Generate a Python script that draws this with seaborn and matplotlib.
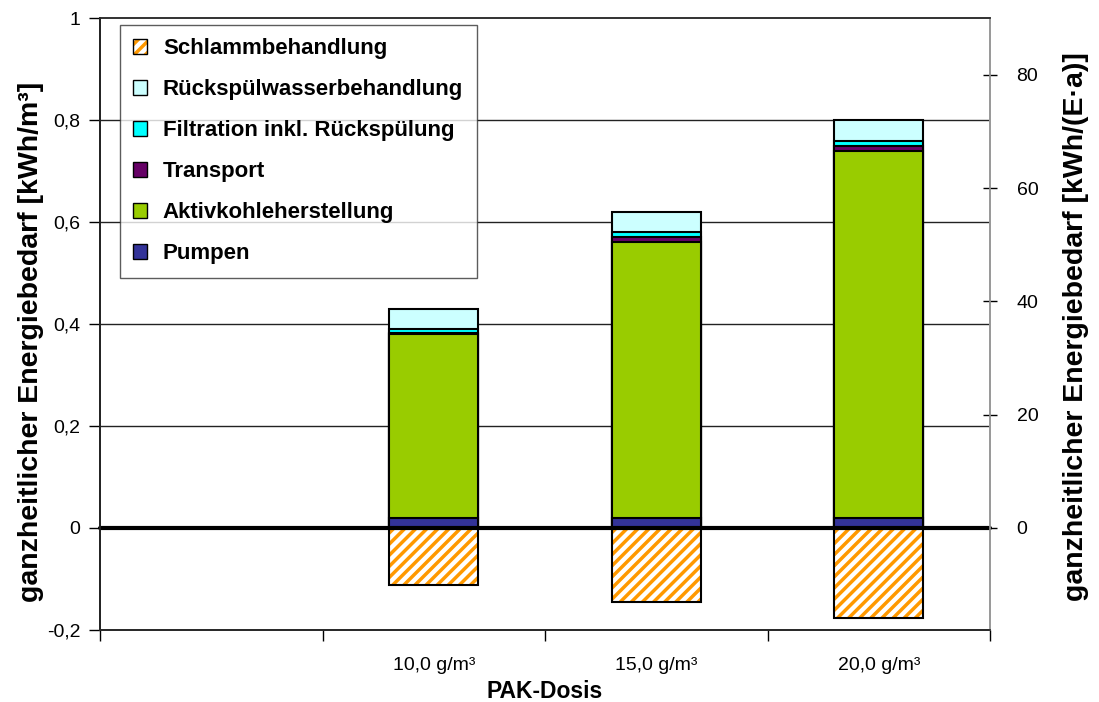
import numpy as np
import pandas as pd
import seaborn as sns
import matplotlib.pyplot as plt
from matplotlib.patches import Patch
from matplotlib.legend_handler import HandlerTuple
from matplotlib.ticker import FixedLocator, NullFormatter

# values (kWh/m³)
categories = ["", "10,0 g/m³", "15,0 g/m³", "20,0 g/m³"]
doses = ["10,0 g/m³", "15,0 g/m³", "20,0 g/m³"]
pumpen = [0.02, 0.02, 0.02]
aktivkohle = [0.36, 0.54, 0.72]
transport = [0.002, 0.01, 0.01]
filtration = [0.008, 0.01, 0.01]
rueckspuel = [0.04, 0.04, 0.04]
schlamm = [-0.112, -0.145, -0.178]

layers = ["Pumpen", "Aktivkohleherstellung", "Transport",
          "Filtration inkl. Rückspülung", "Rückspülwasserbehandlung"]
colors = ["#333399", "#99CC00", "#660066", "#00FFFF", "#CCFFFF"]
hatch_color = "#FF9900"
factor = 90  # kWh/m³ -> kWh/(E·a)

sns.set_theme(style="white")
plt.rcParams['font.family'] = ['Liberation Sans', 'DejaVu Sans']
plt.rcParams['hatch.linewidth'] = 2.5
plt.rcParams['text.color'] = 'black'
plt.rcParams['axes.labelcolor'] = 'black'
plt.rcParams['xtick.color'] = 'black'
plt.rcParams['ytick.color'] = 'black'

df = pd.DataFrame({"dose": doses, "Pumpen": pumpen,
                   "Aktivkohleherstellung": aktivkohle, "Transport": transport,
                   "Filtration inkl. Rückspülung": filtration,
                   "Rückspülwasserbehandlung": rueckspuel, "Schlamm": schlamm})
cum = df[layers].cumsum(axis=1)

fig, ax = plt.subplots(figsize=(10.99, 7.02), dpi=100)
fig.subplots_adjust(left=0.091, right=0.901, top=0.974, bottom=0.103)

# stacked bars: draw the tallest first so lower layers sit on top
for name, col in reversed(list(zip(layers, colors))):
    sns.barplot(x=df["dose"], y=cum[name], order=categories, color=col,
                width=0.4, edgecolor="black", linewidth=1.5, saturation=1,
                ax=ax, zorder=3)

# negative part (sludge) with orange hatch, black outline
sns.barplot(x=df["dose"], y=df["Schlamm"], order=categories, color="white",
            width=0.4, edgecolor=hatch_color, linewidth=0, hatch="///",
            saturation=1, ax=ax, zorder=3)
sns.barplot(x=df["dose"], y=df["Schlamm"], order=categories, fill=False,
            width=0.4, edgecolor="black", linewidth=1.5, ax=ax, zorder=4)

ax.set_xlim(-0.5, 3.5)
ax.set_ylim(-0.2, 1.0)
ax.set_yticks(np.arange(-0.2, 1.01, 0.2))
ax.set_yticklabels(["-0,2", "0", "0,2", "0,4", "0,6", "0,8", "1"])
for y in [0.2, 0.4, 0.6, 0.8]:
    ax.axhline(y, color="#222222", lw=1, zorder=1)
ax.axhline(0, color="black", lw=3, zorder=5, clip_on=False)

ax.xaxis.set_major_locator(FixedLocator([-0.5, 0.5, 1.5, 2.5, 3.5]))
ax.xaxis.set_major_formatter(NullFormatter())
ax.xaxis.set_minor_locator(FixedLocator([0, 1, 2, 3]))
ax.set_xticklabels(categories, minor=True)
ax.tick_params(axis="x", which="major", direction="out", length=8, width=1, bottom=True)
ax.tick_params(axis="x", which="minor", length=0, pad=20, labelsize=14, bottom=True)
ax.tick_params(axis="y", direction="out", length=8, width=1, labelsize=14, left=True, pad=6)

ax.set_xlabel("PAK-Dosis", fontsize=16.5, fontweight="bold", labelpad=4)
ax.set_ylabel("ganzheitlicher Energiebedarf [kWh/m³]", fontsize=20.5,
              fontweight="bold")
ax.yaxis.set_label_coords(-0.063, 0.47)

for side in ["top", "right"]:
    ax.spines[side].set_color("#999999")
ax.spines["left"].set_color("black")
ax.spines["bottom"].set_color("#333333")

ax2 = ax.twinx()
ax2.set_ylim(-0.2 * factor, 1.0 * factor)
ax2.set_yticks([0, 20, 40, 60, 80])
ax2.tick_params(axis="y", direction="inout", length=10, width=1, labelsize=14,
                right=True, pad=14)
ax2.spines["right"].set_color("#999999")
ax2.set_ylabel("ganzheitlicher Energiebedarf [kWh/(E·a)]", fontsize=20.5,
               fontweight="bold")
ax2.yaxis.set_label_coords(1.082, 0.495)
ax2.grid(False)

sludge_handle = (Patch(facecolor="white", edgecolor=hatch_color, hatch="///", lw=0),
                 Patch(facecolor="none", edgecolor="black", lw=1))
handles = [sludge_handle]
labels = ["Schlammbehandlung"]
for name, col in reversed(list(zip(layers, colors))):
    handles.append(Patch(facecolor=col, edgecolor="black", lw=1))
    labels.append(name)
leg = ax2.legend(handles, labels, loc="upper left", bbox_to_anchor=(0.022, 0.989),
                 borderaxespad=0, frameon=True, fancybox=False, edgecolor="#333333",
                 prop={"size": 16, "weight": "bold"}, labelspacing=0.9,
                 handlelength=0.65, handleheight=0.65, handletextpad=0.7,
                 borderpad=0.6, handler_map={tuple: HandlerTuple(ndivide=1, pad=0)})
leg.get_frame().set_linewidth(1)

fig.savefig("out.png", dpi=100)
